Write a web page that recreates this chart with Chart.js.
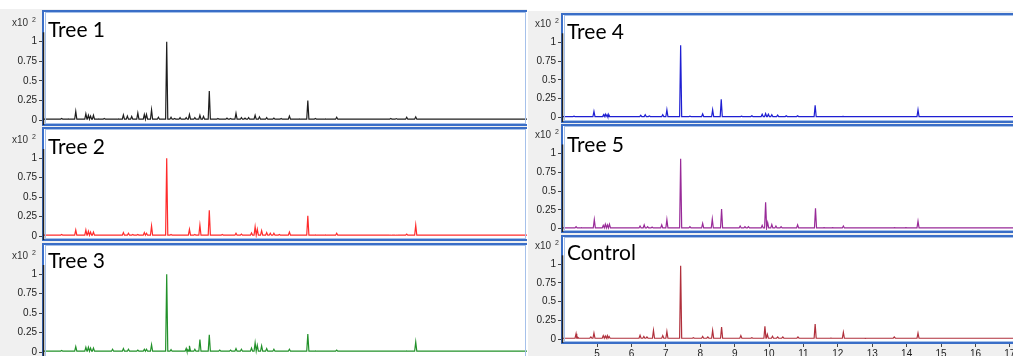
<!DOCTYPE html>
<html>
<head>
<meta charset="utf-8">
<script src="https://cdn.jsdelivr.net/npm/chart.js@4.4.1/dist/chart.umd.min.js"></script>
<style>
html, body { margin: 0; padding: 0; overflow: hidden; background: #fff; width: 1013px; height: 356px; }
.panel { position: absolute; }
</style>
</head>
<body>
<div class="panel" id="p0"><canvas id="c0"></canvas></div>
<div class="panel" id="p1"><canvas id="c1"></canvas></div>
<div class="panel" id="p2"><canvas id="c2"></canvas></div>
<div class="panel" id="p3"><canvas id="c3"></canvas></div>
<div class="panel" id="p4"><canvas id="c4"></canvas></div>
<div class="panel" id="p5"><canvas id="c5"></canvas></div>
<script>
// retention time (min) and relative abundance (x10^2) of the peaks
const rt1 = [4.30, 4.52, 4.70, 4.91, 5.19, 5.26, 5.32, 5.40, 5.55, 5.70, 5.85, 6.10, 6.23, 6.34, 6.46, 6.63, 6.81, 6.87, 7.01, 7.20, 7.43, 7.55, 7.65, 7.80, 7.97, 8.06, 8.21, 8.35, 8.45, 8.61, 8.85, 9.10, 9.20, 9.35, 9.50, 9.60, 9.70, 9.88, 10.00, 10.20, 10.40, 10.60, 10.83, 11.10, 11.34, 11.55, 11.83, 12.14, 12.40, 13.64, 13.79, 14.08, 14.33, 15.60, 16.80]
const h1 = [0.012, 0.02, 0.015, 0.11, 0.08, 0.06, 0.05, 0.06, 0.015, 0.02, 0.012, 0.015, 0.065, 0.05, 0.045, 0.09, 0.07, 0.07, 0.13, 0.035, 1.0, 0.035, 0.02, 0.03, 0.03, 0.07, 0.03, 0.06, 0.045, 0.37, 0.02, 0.025, 0.02, 0.085, 0.03, 0.025, 0.03, 0.06, 0.04, 0.03, 0.025, 0.02, 0.05, 0.015, 0.25, 0.02, 0.015, 0.035, 0.01, 0.02, 0.018, 0.035, 0.04, 0.012, 0.012]

const rt2 = [4.52, 4.91, 5.19, 5.26, 5.32, 5.40, 6.23, 6.37, 6.49, 6.63, 6.81, 6.87, 7.01, 7.43, 7.55, 8.06, 8.21, 8.35, 8.61, 8.97, 9.35, 9.50, 9.78, 9.88, 9.94, 10.06, 10.20, 10.30, 10.40, 10.55, 10.83, 11.34, 11.55, 11.83, 12.14, 13.64, 13.79, 14.08, 14.33, 15.60]
const h2 = [0.02, 0.077, 0.077, 0.06, 0.05, 0.05, 0.045, 0.035, 0.02, 0.02, 0.045, 0.035, 0.13, 1.0, 0.02, 0.085, 0.02, 0.14, 0.33, 0.02, 0.035, 0.025, 0.04, 0.12, 0.085, 0.07, 0.045, 0.035, 0.035, 0.02, 0.05, 0.26, 0.015, 0.015, 0.035, 0.012, 0.012, 0.025, 0.14, 0.01]

const rt3 = [4.52, 4.91, 5.19, 5.26, 5.32, 5.40, 5.93, 6.23, 6.37, 6.63, 6.81, 6.87, 7.01, 7.43, 7.55, 7.97, 8.02, 8.06, 8.21, 8.35, 8.61, 8.90, 9.20, 9.35, 9.50, 9.78, 9.88, 9.94, 10.06, 10.20, 10.40, 10.83, 11.34, 11.55, 12.14, 13.64, 14.08, 14.33]
const h3 = [0.02, 0.07, 0.06, 0.06, 0.05, 0.05, 0.035, 0.045, 0.035, 0.025, 0.035, 0.035, 0.095, 1.0, 0.03, 0.045, 0.035, 0.08, 0.035, 0.16, 0.22, 0.025, 0.025, 0.045, 0.035, 0.05, 0.12, 0.085, 0.08, 0.045, 0.035, 0.035, 0.23, 0.015, 0.025, 0.01, 0.015, 0.13]

const rt4 = [4.33, 4.91, 5.19, 5.24, 5.29, 5.34, 6.27, 6.40, 6.52, 6.91, 7.03, 7.43, 7.70, 8.07, 8.36, 8.61, 9.20, 9.50, 9.80, 9.90, 9.98, 10.08, 10.25, 10.50, 10.83, 11.34, 12.15, 13.65, 14.33]
const h4 = [0.015, 0.08, 0.035, 0.04, 0.035, 0.035, 0.027, 0.035, 0.018, 0.035, 0.1, 0.96, 0.015, 0.045, 0.1, 0.24, 0.015, 0.02, 0.04, 0.05, 0.04, 0.035, 0.03, 0.02, 0.02, 0.16, 0.012, 0.01, 0.1]

const rt5 = [4.39, 4.55, 4.92, 5.18, 5.24, 5.30, 5.36, 6.25, 6.37, 6.47, 6.60, 6.88, 7.03, 7.43, 7.70, 8.07, 8.35, 8.62, 9.16, 9.30, 9.40, 9.80, 9.90, 9.96, 10.08, 10.20, 10.35, 10.83, 11.35, 11.60, 11.85, 12.16, 13.65, 13.98, 14.33, 15.70]
const h5 = [0.027, 0.015, 0.12, 0.045, 0.06, 0.05, 0.06, 0.035, 0.05, 0.027, 0.022, 0.05, 0.12, 0.93, 0.027, 0.07, 0.13, 0.26, 0.035, 0.027, 0.027, 0.045, 0.35, 0.08, 0.055, 0.035, 0.027, 0.05, 0.27, 0.013, 0.013, 0.035, 0.013, 0.013, 0.10, 0.01]

const rtC = [4.39, 4.44, 4.82, 4.91, 5.18, 5.24, 5.30, 5.35, 6.25, 6.36, 6.45, 6.64, 6.91, 7.03, 7.43, 7.80, 8.07, 8.22, 8.36, 8.62, 9.18, 9.50, 9.88, 9.95, 10.10, 10.25, 10.40, 10.84, 11.34, 11.80, 12.16, 12.80, 13.64, 14.33]
const hC = [0.07, 0.022, 0.027, 0.08, 0.045, 0.04, 0.045, 0.035, 0.05, 0.035, 0.027, 0.115, 0.045, 0.10, 0.98, 0.018, 0.035, 0.027, 0.115, 0.16, 0.045, 0.018, 0.17, 0.063, 0.036, 0.027, 0.027, 0.027, 0.20, 0.013, 0.09, 0.009, 0.027, 0.08]

const titles = ['Tree 1', 'Tree 2', 'Tree 3', 'Tree 4', 'Tree 5', 'Control']
const colors = ['#1e1e1e', '#ff2b2b', '#22912a', '#1f1fd2', '#982a98', '#b0303c']
const yTicks = [0, 0.25, 0.5, 0.75, 1]
const xTicks = [5, 6, 7, 8, 9, 10, 11, 12, 13, 14, 15, 16, 17]

const series = [[rt1, h1], [rt2, h2], [rt3, h3], [rt4, h4], [rt5, h5], [rtC, hC]]

// page layout of the six panels: canvas box, plot box (T/B), pixel rows of 0 and 1
const leftCol = { left: 0, width: 527, plotLeft: 44, xmin: 4.03, ppm: 36.09, lab: 32, labY: 15 }
const rightCol = { left: 528, width: 500, plotLeft: 35, xmin: 4.01, ppm: 34.4, lab: 28, labY: 13 }
const panels = [
  { col: leftCol, top: 9, h: 117, T: 11, B: 125, y0: 120, y1: 41.7, ty: 26 },
  { col: leftCol, top: 126, h: 115, T: 128, B: 240, y0: 236, y1: 158.3, ty: 26 },
  { col: leftCol, top: 241, h: 120, T: 244, B: 358, y0: 352, y1: 274.3, ty: 24 },
  { col: rightCol, top: 11, h: 112, T: 14, B: 122, y0: 117.3, y1: 42.3, ty: 25 },
  { col: rightCol, top: 123, h: 110, T: 125, B: 232, y0: 228.7, y1: 153.5, ty: 27 },
  { col: rightCol, top: 233, h: 130, T: 236, B: 343, y0: 339, y1: 264.3, ty: 24, xAxis: true }
]

const foot = 0.01
const halfWidth = 0.03

function trace(rt, h, xmax) {
  const pts = [{ x: 3.9, y: foot }, { x: xmax + 0.2, y: foot }]
  for (let i = 0; i < rt.length; i++) {
    pts.push({ x: rt[i] - halfWidth, y: foot })
    pts.push({ x: rt[i], y: h[i] })
    pts.push({ x: rt[i] + halfWidth, y: foot })
  }
  pts.sort((a, b) => a.x - b.x)
  return pts
}

const deco = {
  id: 'deco',
  beforeDraw(chart) {
    const c = chart.ctx, a = chart.chartArea
    c.save()
    c.fillStyle = '#f0f0f0'
    c.fillRect(0, 0, chart.width, chart.height)
    c.fillStyle = '#fff'
    c.fillRect(a.left, a.top, a.right - a.left, a.bottom - a.top)
    c.restore()
  },
  afterDraw(chart, args, opts) {
    const c = chart.ctx, a = chart.chartArea
    const w = a.right - a.left, hh = a.bottom - a.top
    c.save()
    c.strokeStyle = '#a6c1ea'
    c.lineWidth = 1
    c.strokeRect(a.left + 1.5, a.top + 1.5, w - 3, hh - 3)
    c.strokeStyle = '#3a6ec7'
    c.lineWidth = 2
    c.strokeRect(a.left - 1, a.top, w + 2, hh)
    // y axis line
    const ys = chart.scales.y
    c.strokeStyle = '#222'
    c.lineWidth = 1.5
    c.beginPath()
    c.moveTo(a.left - 0.5, ys.getPixelForValue(1.12))
    c.lineTo(a.left - 0.5, a.bottom)
    c.stroke()
    // panel title
    c.fillStyle = '#000'
    c.font = '21px Lato'
    c.textBaseline = 'alphabetic'
    c.fillText(opts.title, a.left + 4, a.top + opts.ty)
    // x10^2 unit label
    c.fillStyle = '#333'
    c.font = '10px "Liberation Sans"'
    c.fillText('x10', a.left - opts.lab, a.top + opts.labY)
    c.font = '7px "Liberation Sans"'
    c.fillText('2', a.left - opts.lab + 20, a.top + opts.labY - 4)
    c.restore()
  }
}

panels.forEach((p, i) => {
  const col = p.col
  const div = document.getElementById('p' + i)
  div.style.left = col.left + 'px'
  div.style.top = p.top + 'px'
  div.style.width = col.width + 'px'
  div.style.height = p.h + 'px'
  const xmax = col.xmin + (col.width - col.plotLeft) / col.ppm
  const unit = p.y0 - p.y1
  const xH = p.xAxis ? 20 : 0
  new Chart(document.getElementById('c' + i), {
    type: 'line',
    data: {
      datasets: [{
        data: trace(series[i][0], series[i][1], xmax),
        borderColor: colors[i],
        borderWidth: 1.2,
        pointRadius: 0,
        tension: 0,
        fill: false
      }]
    },
    options: {
      responsive: true,
      maintainAspectRatio: false,
      animation: false,
      events: [],
      layout: { padding: { top: p.T - p.top, bottom: p.xAxis ? 0 : p.top + p.h - p.B, left: 0, right: 0 } },
      plugins: {
        legend: { display: false },
        tooltip: { enabled: false },
        deco: { title: titles[i], ty: p.ty, lab: col.lab, labY: col.labY }
      },
      scales: {
        x: {
          type: 'linear',
          min: col.xmin,
          max: xmax,
          display: !!p.xAxis,
          afterFit: s => { s.height = xH; s.paddingLeft = 0; s.paddingRight = 0 },
          afterBuildTicks: s => { s.ticks = xTicks.map(v => ({ value: v })) },
          ticks: { callback: v => String(v), font: { family: 'Liberation Sans', size: 10 }, color: '#222', padding: 1, maxRotation: 0, autoSkip: false },
          grid: { drawOnChartArea: false, tickLength: 4, color: '#444' },
          border: { display: false }
        },
        y: {
          min: -(p.B - p.y0) / unit,
          max: (p.y0 - p.T) / unit,
          afterFit: s => { s.width = col.plotLeft; s.paddingTop = 0; s.paddingBottom = 0 },
          afterBuildTicks: s => { s.ticks = yTicks.map(v => ({ value: v })) },
          ticks: { callback: v => String(v), font: { family: 'Liberation Sans', size: 10 }, color: '#222', padding: 2 },
          grid: { drawOnChartArea: false, tickLength: 5, color: '#444' },
          border: { display: false }
        }
      }
    },
    plugins: [deco]
  })
})
</script>
</body>
</html>
